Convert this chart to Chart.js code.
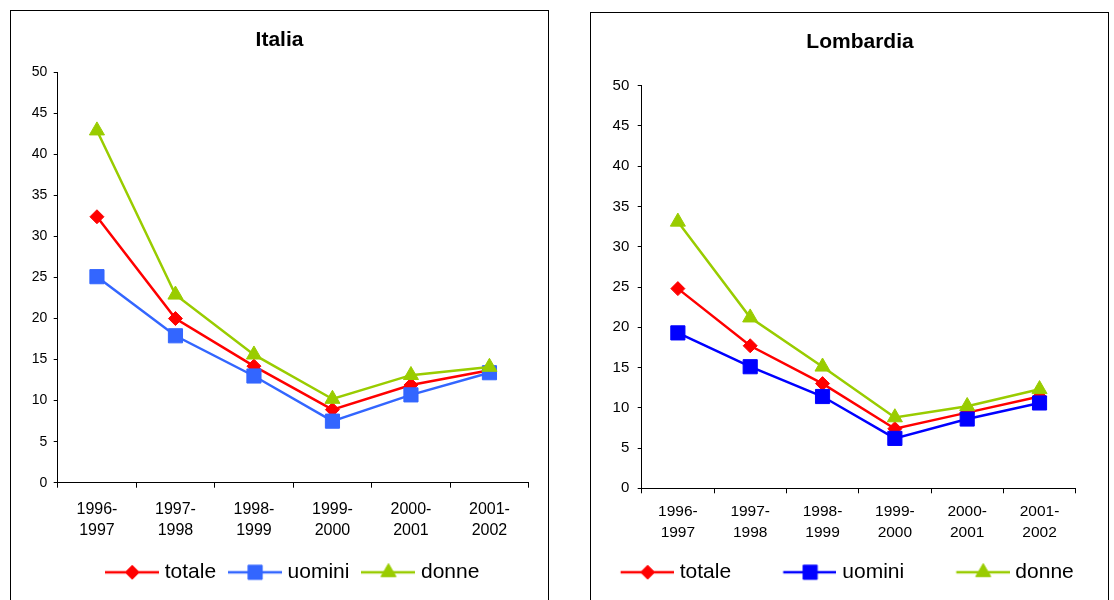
<!DOCTYPE html>
<html>
<head>
<meta charset="utf-8">
<script src="https://cdn.jsdelivr.net/npm/chart.js@4.4.1/dist/chart.umd.min.js"></script>
<style>
  html, body { margin: 0; padding: 0; background: #fff; width: 1114px; height: 600px; overflow: hidden; }
  .frame { position: absolute; border: 1px solid #000; box-sizing: border-box; }
  .wrap { position: absolute; }
</style>
</head>
<body>
<div class="frame" style="left:10px;top:10px;width:539px;height:620px"></div>
<div class="frame" style="left:590px;top:12px;width:519px;height:620px"></div>
<div class="wrap" style="left:11px;top:11px;width:536px;height:589px"><canvas id="cItalia"></canvas></div>
<div class="wrap" style="left:550px;top:13px;width:564px;height:587px"><canvas id="cLombardia"></canvas></div>
<script>
// Anni scolastici
const periods = [['1996-', '1997'], ['1997-', '1998'], ['1998-', '1999'], ['1999-', '2000'], ['2000-', '2001'], ['2001-', '2002']];
const seriesNames = ['totale', 'uomini', 'donne'];

// Italia
const italiaTotale = [32.4, 20.0, 14.2, 8.9, 11.9, 13.7];
const italiaUomini = [25.1, 17.9, 13.0, 7.5, 10.7, 13.4];
const italiaDonne  = [42.9, 22.9, 15.6, 10.2, 13.1, 14.1];

// Lombardia
const lombardiaTotale = [24.8, 17.7, 13.0, 7.4, 9.4, 11.4];
const lombardiaUomini = [19.3, 15.1, 11.4, 6.2, 8.6, 10.6];
const lombardiaDonne  = [33.1, 21.2, 15.1, 8.8, 10.2, 12.3];

// Asse dei valori
const yMin = 0, yMax = 50, yStep = 5;

const FONT = 'Arial, "Liberation Sans", Helvetica, sans-serif';
const RED = '#FF0000', GREEN = '#99CC00';
const GLYPH_LINE = 54;

// Legend glyph: a short line with the series marker in its middle,
// preceded by `lead` pixels of empty space
function legendGlyph(color, style, radius, lead) {
  const c = document.createElement('canvas');
  c.width = GLYPH_LINE + lead; c.height = 24;
  const g = c.getContext('2d');
  g.strokeStyle = color;
  g.lineWidth = 2.5;
  g.beginPath(); g.moveTo(lead, 12); g.lineTo(lead + GLYPH_LINE, 12); g.stroke();
  g.fillStyle = color;
  g.lineWidth = 1;
  Chart.helpers.drawPoint(g, { pointStyle: style, radius: radius, rotation: 0, borderWidth: 1 }, lead + GLYPH_LINE / 2, 12);
  return c;
}

// Moves the title and the legend sideways inside their full-width boxes
const shiftBoxes = {
  id: 'shiftBoxes',
  afterLayout(chart, args, opts) {
    const t = chart.titleBlock, l = chart.legend;
    if (t && opts.title) { t.left += opts.title; t.right += opts.title; }
    if (l && opts.legend) { l.left += opts.legend; l.right += opts.legend; }
  }
};

function series(label, data, color, style, radius, order) {
  return {
    label, data, order,
    yAxisID: 'y',
    borderColor: color, backgroundColor: color,
    borderWidth: 2.5, tension: 0, fill: false,
    pointStyle: style, pointRadius: radius, pointHoverRadius: radius,
    pointBackgroundColor: color, pointBorderColor: color, pointBorderWidth: 1
  };
}

function makeChart(id, title, values, blue, L) {
  return new Chart(document.getElementById(id), {
    type: 'line',
    data: {
      labels: periods,
      datasets: [
        series(seriesNames[0], values[0], RED, 'rectRot', 7, 2),
        series(seriesNames[1], values[1], blue, 'rect', 10, 1),
        series(seriesNames[2], values[2], GREEN, 'triangle', 8.7, 0)
      ]
    },
    options: {
      responsive: true,
      maintainAspectRatio: false,
      animation: false,
      events: [],
      layout: { padding: { top: 0, left: 0, right: 0, bottom: L.padBottom } },
      plugins: {
        tooltip: { enabled: false },
        title: {
          display: true, text: title, color: '#000',
          font: { family: FONT, size: 21, weight: 'bold', lineHeight: 1.2 },
          padding: { top: L.titleTop, bottom: L.titleBottom }
        },
        legend: {
          display: true, position: 'bottom',
          labels: {
            usePointStyle: true,
            pointStyleWidth: GLYPH_LINE - 10 + L.legendLead,
            padding: L.legendPad,
            color: '#000',
            font: { family: FONT, size: 21 },
            generateLabels: chart => chart.data.datasets.map((ds, i) => ({
              text: ds.label,
              pointStyle: legendGlyph(ds.borderColor, ds.pointStyle, ds.pointRadius, L.legendLead),
              fillStyle: ds.borderColor, strokeStyle: ds.borderColor,
              lineWidth: 0, hidden: false, datasetIndex: i, fontColor: '#000'
            }))
          }
        },
        shiftBoxes: { title: L.titleShift, legend: L.legendShift }
      },
      scales: {
        x: {
          type: 'category', offset: true,
          grid: { display: true, offset: true, drawOnChartArea: false, drawTicks: true, tickLength: 5, color: '#000', lineWidth: 1 },
          border: { display: true, color: '#000', width: 1 },
          ticks: { color: '#000', font: { family: FONT, size: L.xFont, lineHeight: L.xLine }, padding: L.xPad, maxRotation: 0, autoSkip: false },
          afterFit: s => { s.height = L.xHeight; }
        },
        y: {
          type: 'linear', position: 'left', min: yMin, max: yMax,
          grid: { display: true, drawOnChartArea: false, drawTicks: true, tickLength: 4, color: '#000', lineWidth: 1 },
          border: { display: true, color: '#000', width: 1 },
          ticks: { stepSize: yStep, color: '#000', font: { family: FONT, size: L.yFont }, padding: L.yPad },
          afterFit: s => { s.width = L.yWidth; }
        },
        yPad: {
          type: 'linear', position: 'right', display: true,
          grid: { display: false }, border: { display: false }, ticks: { display: false },
          afterFit: s => { s.width = L.rightWidth; }
        }
      }
    },
    plugins: [shiftBoxes]
  });
}

makeChart('cItalia', 'Italia', [italiaTotale, italiaUomini, italiaDonne], '#3366FF', {
  padBottom: 7.2, titleTop: 16.7, titleBottom: 19.4, legendPad: 17, legendLead: 0,
  titleShift: 0.5, legendShift: 15.8,
  xFont: 16, xLine: 1.3125, xPad: 11.3, xHeight: 62.1,
  yFont: 14, yPad: 6.4, yWidth: 46.7, rightWidth: 18.3
});

makeChart('cLombardia', 'Lombardia', [lombardiaTotale, lombardiaUomini, lombardiaDonne], '#0000FF', {
  padBottom: 7.3, titleTop: 16.9, titleBottom: 30.6, legendPad: 16, legendLead: 40.7,
  titleShift: 28, legendShift: -2.85,
  xFont: 15.5, xLine: 1.4, xPad: 7.35, xHeight: 57.4,
  yFont: 15, yPad: 8.4, yWidth: 91.7, rightWidth: 38.3
});
</script>
</body>
</html>
